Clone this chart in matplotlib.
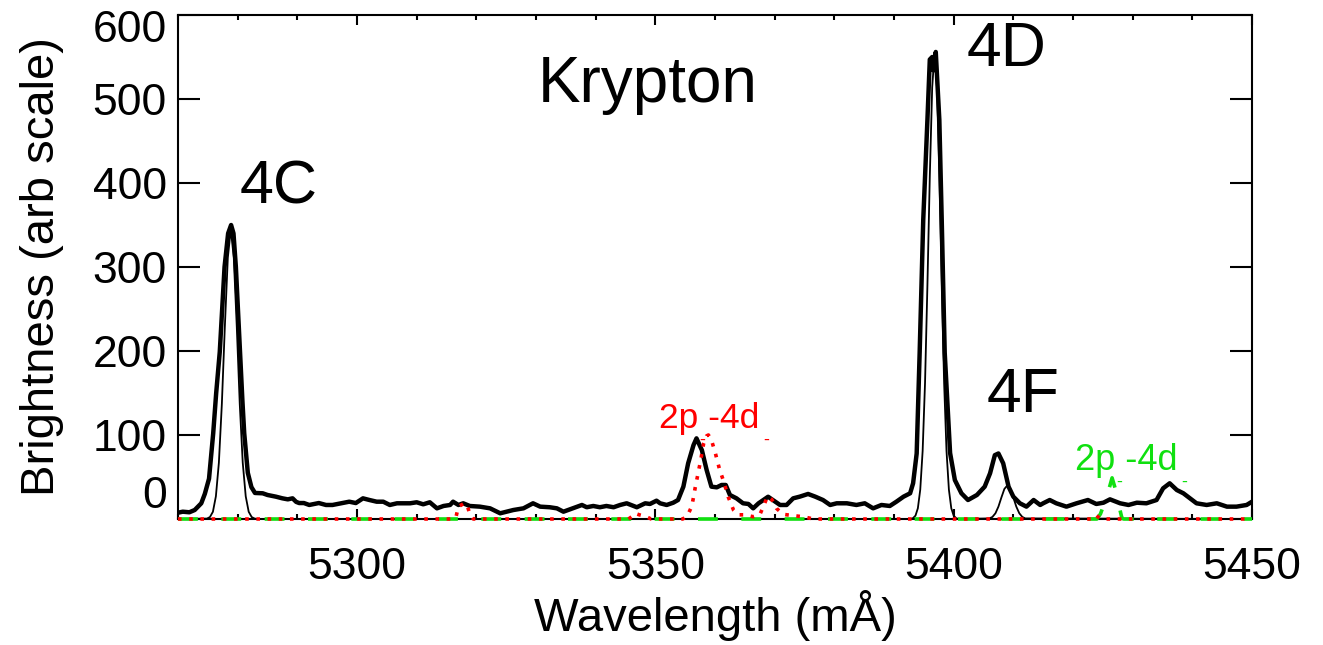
import matplotlib

matplotlib.use("Agg")
import matplotlib.pyplot as plt
from matplotlib.ticker import MultipleLocator
from matplotlib.transforms import ScaledTranslation

# measured spectrum (thick black)
wl_meas = [
    5270.0, 5270.8, 5271.9, 5272.8, 5273.9, 5274.5, 5275.2, 5275.9, 5276.4, 5277.0,
    5277.8, 5278.4, 5278.9, 5279.3, 5279.7, 5280.4, 5280.8, 5281.1, 5281.7, 5282.3,
    5282.9, 5284.2, 5285.0, 5286.4, 5287.5, 5288.4, 5289.2, 5289.8, 5290.3, 5291.1,
    5292.0, 5293.6, 5294.8, 5295.9, 5297.6, 5298.7, 5299.8, 5301.0, 5302.1, 5303.3,
    5304.4, 5305.5, 5306.7, 5307.8, 5308.9, 5310.0, 5311.1, 5312.2, 5313.4, 5314.5,
    5315.6, 5316.1, 5317.0, 5317.8, 5318.9, 5320.6, 5322.3, 5324.0, 5325.1, 5326.2,
    5327.9, 5329.5, 5330.7, 5332.3, 5333.5, 5334.6, 5335.7, 5337.7, 5338.5, 5339.6,
    5340.7, 5341.8, 5343.0, 5344.1, 5345.2, 5346.9, 5348.3, 5349.1, 5350.2, 5350.8,
    5351.9, 5353.0, 5353.8, 5354.7, 5355.5, 5356.4, 5356.9, 5357.8, 5358.6, 5359.4,
    5360.3, 5361.1, 5361.8, 5362.5, 5363.6, 5364.7, 5365.6, 5366.4, 5367.3, 5368.1,
    5368.9, 5369.7, 5370.9, 5372.0, 5373.1, 5374.2, 5375.6, 5376.8, 5378.1, 5379.3,
    5380.4, 5382.1, 5383.7, 5385.1, 5386.5, 5387.9, 5389.3, 5390.4, 5391.6, 5392.7,
    5393.2, 5393.8, 5394.3, 5394.9, 5395.6, 5396.0, 5396.4, 5396.6, 5397.0, 5397.6,
    5398.0, 5398.5, 5399.4, 5400.2, 5401.3, 5402.4, 5403.9, 5405.2, 5406.1, 5406.9,
    5407.5, 5408.3, 5409.2, 5410.0, 5411.1, 5412.2, 5413.4, 5414.5, 5415.0, 5416.1,
    5417.2, 5418.9, 5420.6, 5422.5, 5423.9, 5425.1, 5426.2, 5427.9, 5429.3, 5430.7,
    5432.3, 5434.0, 5435.1, 5436.2, 5437.4, 5438.5, 5439.6, 5440.7, 5442.4, 5444.1,
    5445.8, 5447.4, 5449.1, 5450.0,
]
br_meas = [
    7.5, 8.7, 8.0, 10.7, 18.7, 30, 48, 102, 150, 199,
    300, 340, 350, 340, 300, 199, 140, 102, 55, 38,
    31, 30.6, 28.6, 26.6, 24.6, 23.4, 24.6, 20.4, 19, 19,
    16.7, 19, 16.7, 16.7, 19, 20.6, 19, 24.6, 22.6, 20.6,
    20.6, 16.7, 18.7, 18.7, 18.7, 19.9, 17.5, 19.9, 12.7, 15.5,
    16.7, 20.6, 16.7, 18.7, 15.5, 14.7, 12.7, 6.8, 8.7, 10.7,
    12.7, 18.7, 14.7, 14.0, 12.7, 8.7, 11.5, 16.7, 14.0, 15.5,
    14.0, 15.5, 14.0, 16.7, 18.7, 14.0, 18.7, 17.9, 21.8, 18.7,
    16.7, 19.4, 22.6, 38.5, 66.3, 88, 96, 82, 58.3, 38.5,
    37.7, 40.5, 40.5, 28.6, 24.6, 18.7, 17.9, 12.7, 18.7, 22.6,
    26.5, 22.6, 16.7, 16.7, 24.6, 26.6, 29.8, 26.6, 22.6, 16.7,
    18.7, 18.7, 16.7, 18.7, 12.7, 16.7, 15.5, 20.6, 26.6, 30.6,
    42.5, 78, 198, 356, 475, 547, 550, 534, 556, 475,
    356, 198, 78.6, 46.4, 30.6, 22.6, 28.6, 38.5, 54.4, 76,
    78, 66.3, 38.5, 26.6, 18.7, 14.7, 22.6, 16.7, 18.7, 22.6,
    18.7, 14.7, 18.7, 22.6, 17.9, 19.4, 23.4, 18.7, 16.7, 19.4,
    18.7, 22.6, 36.5, 42.5, 34.5, 30.6, 24.6, 18.7, 16.7, 18.7,
    14.7, 14.7, 16.7, 20.6,
]

# fitted lines 4C, 4D, 4F (thin black)
wl_fit = [
    5270.0,
    5274.85, 5275.35, 5275.85, 5276.35, 5276.85, 5277.35, 5277.85, 5278.35, 5278.85,
    5279.35, 5279.85, 5280.35, 5280.85, 5281.35, 5281.85, 5282.35, 5282.85, 5283.3,
    5392.8, 5393.2, 5393.6, 5394.0, 5394.4, 5394.8, 5395.2, 5395.6, 5396.0, 5396.4,
    5396.8, 5397.2, 5397.6, 5398.0, 5398.4, 5398.8, 5399.2, 5399.6, 5400.0, 5400.4,
    5400.8,
    5406.0, 5406.5, 5407.0, 5407.5, 5408.0, 5408.5, 5409.0, 5409.5, 5410.0, 5410.5,
    5411.0, 5411.5, 5412.0, 5450.0,
]
br_fit = [
    0,
    0.5, 2.3, 8.6, 27, 67, 137, 229, 311, 345,
    311, 229, 137, 67, 27, 8.6, 2.3, 0.5, 0,
    0, 1.1, 4, 12.8, 35, 81, 162, 278, 408, 514,
    555, 514, 408, 278, 162, 81, 35, 12.8, 4, 1.1,
    0,
    0.7, 2.5, 6.8, 14.7, 25.6, 35.8, 40, 35.8, 25.6, 14.7,
    6.8, 2.5, 0.7, 0,
]

# 2p-4d (red dotted)
wl_red = [
    5270.0, 5316.2, 5316.6, 5317.0, 5317.8, 5318.4, 5318.9, 5319.5, 5345.5, 5346.1,
    5346.6, 5347.3, 5348.5, 5349.3, 5354.6, 5355.35, 5356.1, 5356.4, 5356.7, 5357.1,
    5357.6, 5358.1, 5358.6, 5358.9, 5359.4, 5360.0, 5360.8, 5361.5, 5362.2, 5363.1,
    5363.9, 5365.0, 5366.4, 5367.5, 5368.1, 5368.8, 5369.5, 5370.3, 5371.4, 5373.1,
    5374.8, 5376.5, 5423.0, 5423.8, 5424.6, 5450.0,
]
br_red = [
    0, 0, 2.7, 14.7, 18, 17.9, 6, 0, 0, 3,
    6.8, 5, 2.7, 0, 0, 3.6, 15, 26, 38, 52,
    70, 90, 99, 100, 94, 80, 58, 44, 26.5, 10.7,
    5, 5, 2.7, 5, 14.7, 27, 23.5, 12.7, 5.6, 4,
    2.7, 0, 0, 4.8, 0, 0,
]

# 2p-4d (green dashed)
wl_green = [5270.0, 5424.0, 5424.6, 5425.35, 5426.2, 5426.55, 5427.05, 5427.6, 5428.2, 5428.5, 5450.0]
br_green = [0, 0, 6, 20.6, 40, 49, 37, 19, 1, 0, 0]

xticks = [5300, 5350, 5400, 5450]
yticks = [0, 100, 200, 300, 400, 500, 600]

RED = "#ff0000"
GREEN = "#10e010"

plt.rcParams["font.family"] = ["Liberation Sans", "DejaVu Sans"]

fig = plt.figure(figsize=(13.23, 6.45), dpi=100)
ax = fig.add_axes([178 / 1323, 1 - 519 / 645, 1074 / 1323, 504 / 645])

ax.plot(wl_meas, br_meas, color="black", lw=3.2, zorder=3, solid_joinstyle="round")
ax.plot(wl_fit, br_fit, color="black", lw=1.3, zorder=3.1)
ax.plot(wl_green, br_green, color=GREEN, lw=2.6, ls=(0, (5.5, 6.5)), zorder=3.2, clip_on=False)
ax.plot(wl_red, br_red, color=RED, lw=2.6, ls=(0, (1, 2.1)), zorder=3.3, clip_on=False)

ax.set_xlim(5270, 5450)
ax.set_ylim(0, 600)
ax.set_xticks(xticks)
ax.set_yticks(yticks)
ax.xaxis.set_minor_locator(MultipleLocator(10))
ax.yaxis.set_minor_locator(MultipleLocator(1000))

for s in ax.spines.values():
    s.set_linewidth(1.5)
ax.tick_params(which="both", direction="in", top=True, right=True, width=1.5, labelsize=32)
ax.tick_params(axis="x", which="major", length=7, pad=20)
ax.tick_params(axis="x", which="minor", length=3.3)
ax.tick_params(axis="y", which="major", length=15.5, pad=8)

# end labels sit inside the axis range, as in the original
yt = ax.yaxis.get_major_ticks()
yt[0].label1.set_transform(yt[0].label1.get_transform() + ScaledTranslation(0, 0.27, fig.dpi_scale_trans))
yt[-1].label1.set_transform(yt[-1].label1.get_transform() + ScaledTranslation(0, -0.11, fig.dpi_scale_trans))

ax.set_xlabel("Wavelength (mÅ)", fontsize=34)
ax.set_ylabel("Brightness (arb scale)", fontsize=34)
ax.xaxis.set_label_coords(0.5, -0.14)
ax.yaxis.set_label_coords(-0.106, 0.5)

ax.text(5348.7, 496, "Krypton", fontsize=46, ha="center", va="baseline")
ax.text(5408.9, 539, "4D", fontsize=45, ha="center", va="baseline")
ax.text(5286.9, 376, "4C", fontsize=44, ha="center", va="baseline")
ax.text(5411.6, 127, "4F", fontsize=45, ha="center", va="baseline")

ax.text(5359.1, 108.3, "2p -4d", fontsize=25.5, color=RED, ha="center", va="baseline")
ax.text(5357.9, 93.5, "-", fontsize=13, color=RED, ha="center", va="center")
ax.text(5368.5, 93.5, "-", fontsize=13, color=RED, ha="center", va="center")
ax.text(5429.0, 58.3, "2p -4d", fontsize=26, color=GREEN, ha="center", va="baseline")
ax.text(5427.8, 44, "-", fontsize=13, color=GREEN, ha="center", va="center")
ax.text(5438.6, 44, "-", fontsize=13, color=GREEN, ha="center", va="center")

fig.savefig("out.png", dpi=100)
